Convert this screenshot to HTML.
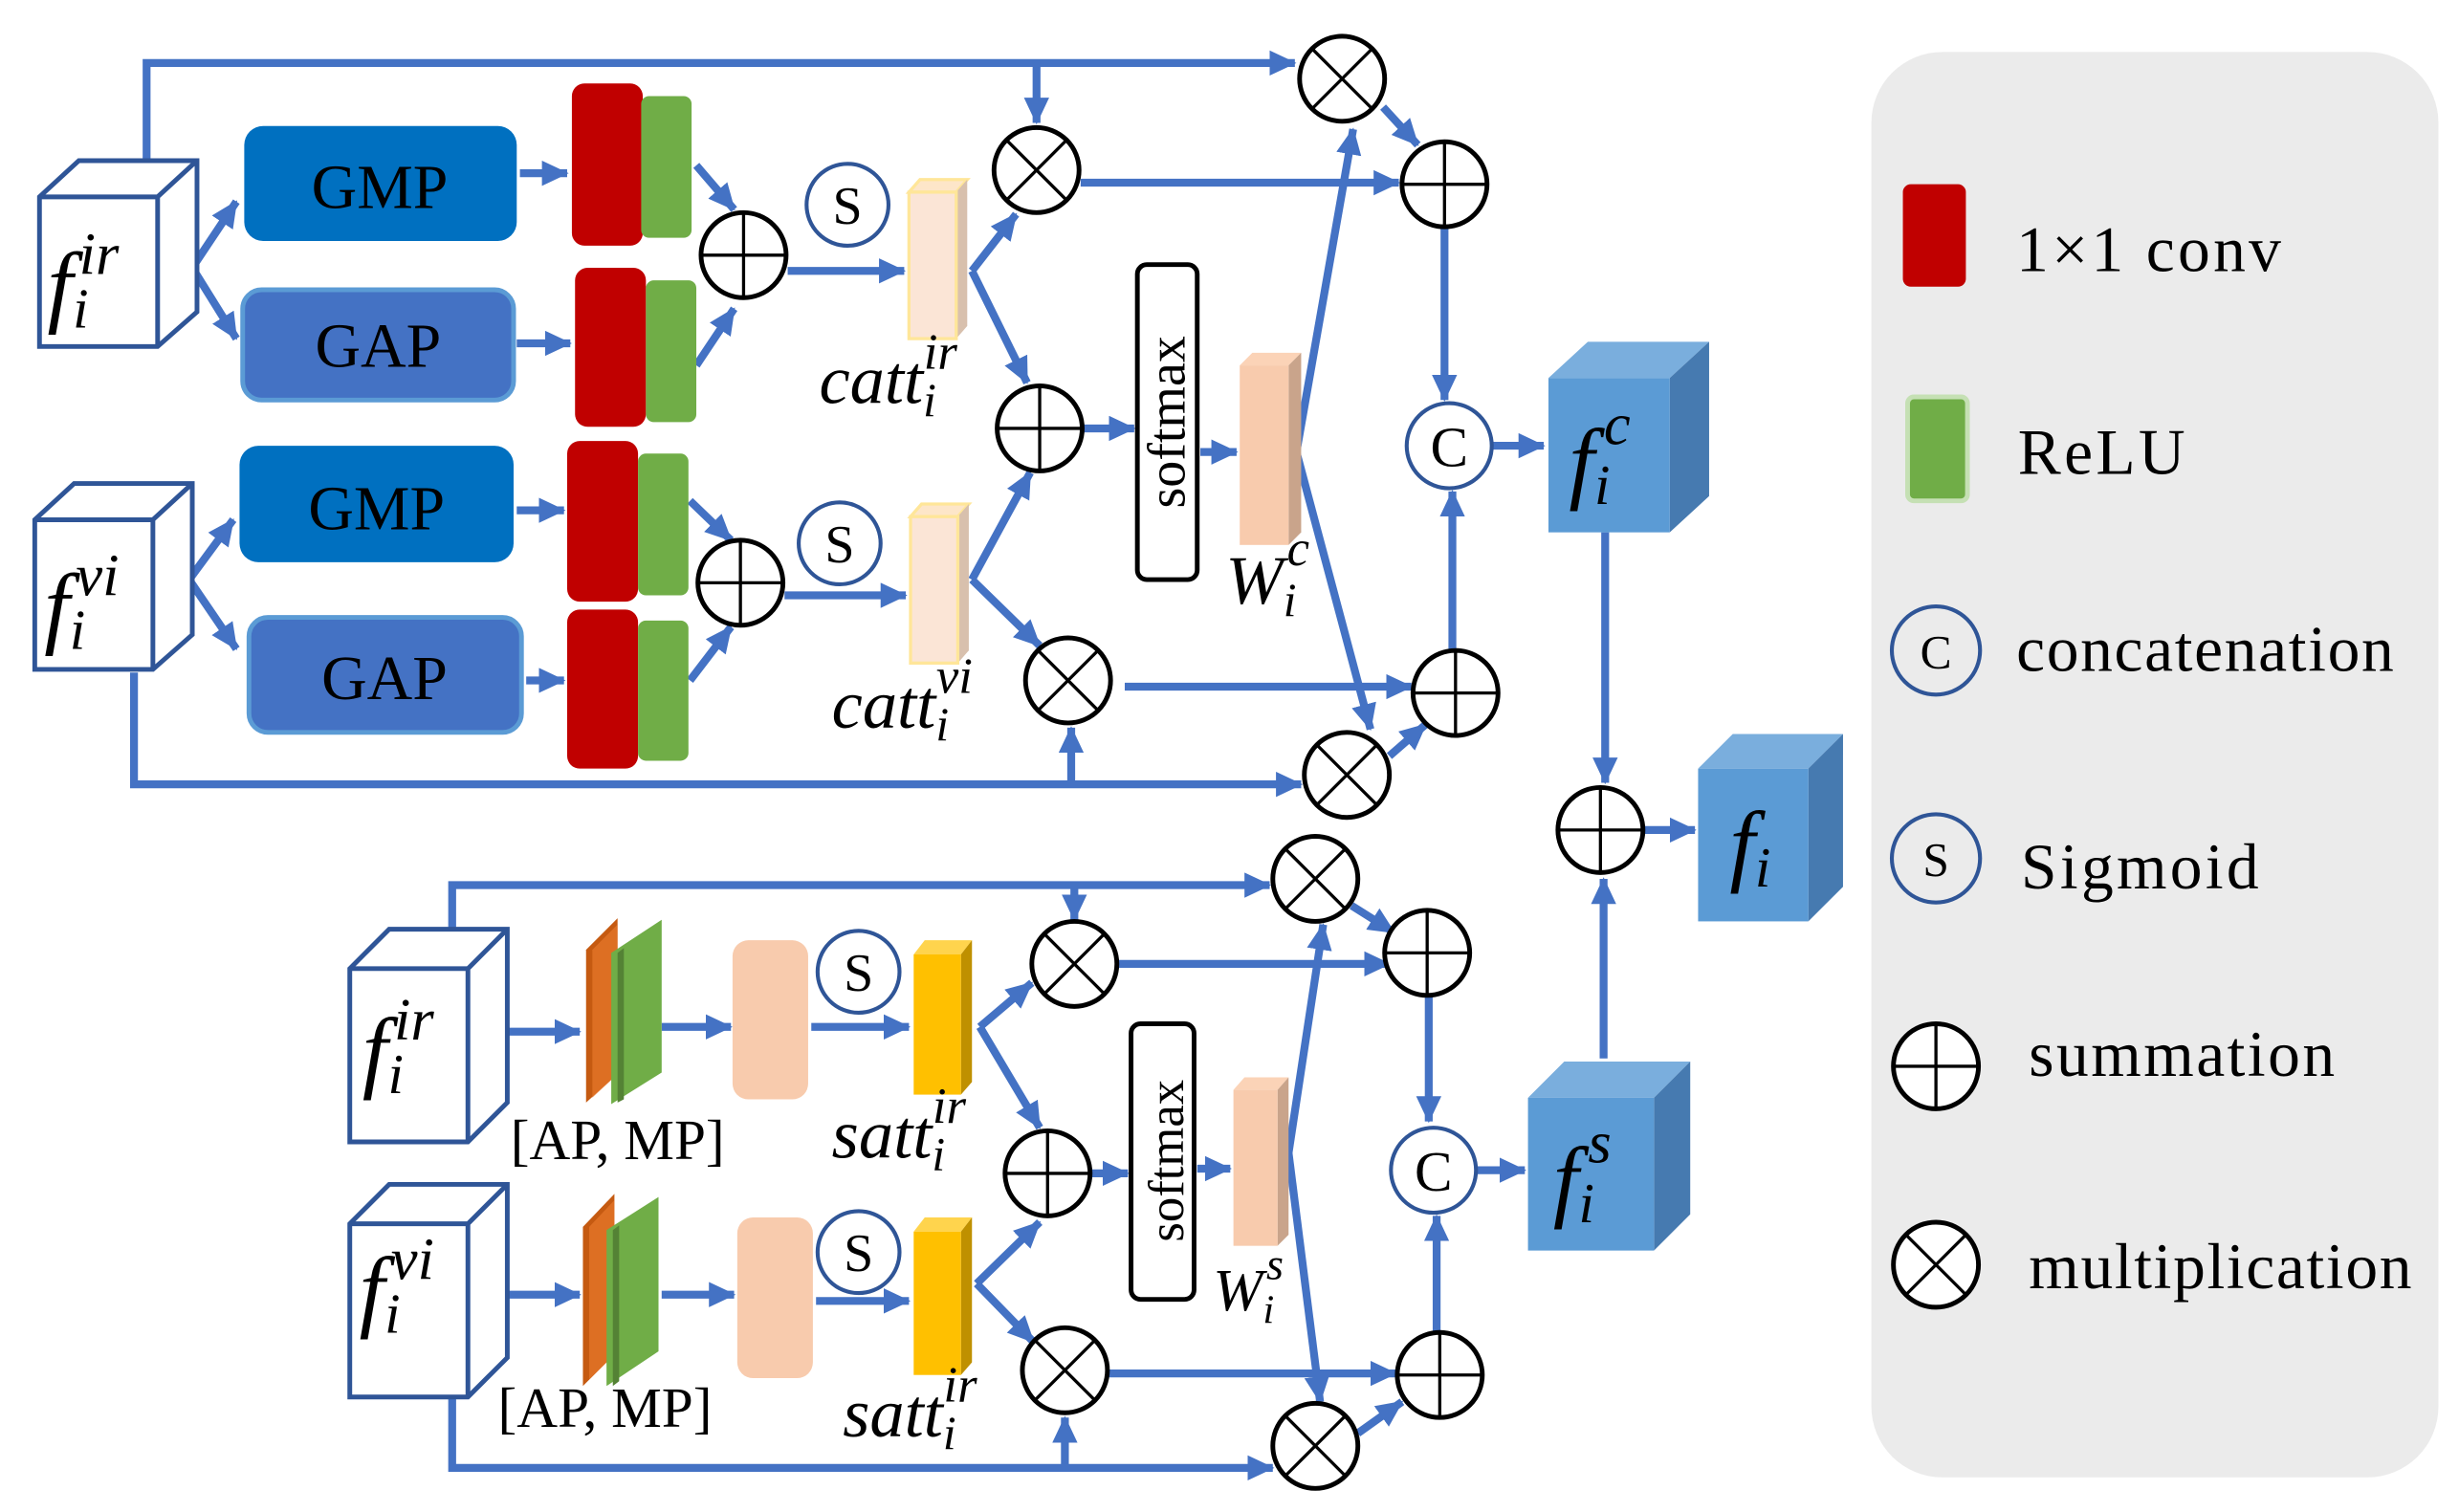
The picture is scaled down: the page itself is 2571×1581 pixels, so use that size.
<!DOCTYPE html>
<html><head><meta charset="utf-8"><style>
html,body{margin:0;padding:0;background:#fff;}
svg{display:block;}
text{font-family:"Liberation Serif",serif;}
.m{font-style:italic;}
</style></head><body>
<svg width="2571" height="1581" viewBox="0 0 1561 960" xmlns="http://www.w3.org/2000/svg">
<defs>
<marker id="a" markerUnits="userSpaceOnUse" markerWidth="18" markerHeight="18" refX="16" refY="8" orient="auto">
<path d="M0,0 L17,8 L0,16 Z" fill="#4472c4"/></marker>
<g id="plus"><circle r="27" fill="#fff" stroke="#000" stroke-width="3"/><path d="M-27,0H27M0,-27V27" stroke="#000" stroke-width="2"/></g>
<g id="mul"><circle r="27" fill="#fff" stroke="#000" stroke-width="3"/><path d="M-19,-19L19,19M19,-19L-19,19" stroke="#000" stroke-width="2"/></g>
</defs>
<g stroke="#4472c4" stroke-width="5" fill="none">
<path d="M93,102V40H822" marker-end="url(#a)"/>
<path d="M658,40V78" marker-end="url(#a)"/>
<path d="M122,170L150,128" marker-end="url(#a)"/>
<path d="M122,170L150,215" marker-end="url(#a)"/>
<path d="M330,110H360" marker-end="url(#a)"/>
<path d="M328,218H362" marker-end="url(#a)"/>
<path d="M442,105L466,133" marker-end="url(#a)"/>
<path d="M442,232L466,196" marker-end="url(#a)"/>
<path d="M500,172H574" marker-end="url(#a)"/>
<path d="M617,172L645,136" marker-end="url(#a)"/>
<path d="M617,172L652,243" marker-end="url(#a)"/>
<path d="M120,368L148,330" marker-end="url(#a)"/>
<path d="M120,368L150,412" marker-end="url(#a)"/>
<path d="M328,324H358" marker-end="url(#a)"/>
<path d="M334,432H358" marker-end="url(#a)"/>
<path d="M438,318L464,343" marker-end="url(#a)"/>
<path d="M438,432L464,398" marker-end="url(#a)"/>
<path d="M498,378H575" marker-end="url(#a)"/>
<path d="M617,368L654,300" marker-end="url(#a)"/>
<path d="M617,368L660,410" marker-end="url(#a)"/>
<path d="M85,427V498H826" marker-end="url(#a)"/>
<path d="M680,498V462" marker-end="url(#a)"/>
<path d="M688,272H720" marker-end="url(#a)"/>
<path d="M762,287H785" marker-end="url(#a)"/>
<path d="M823,287L859,82" marker-end="url(#a)"/>
<path d="M823,287L870,463" marker-end="url(#a)"/>
<path d="M878,68L900,92" marker-end="url(#a)"/>
<path d="M686,116H888" marker-end="url(#a)"/>
<path d="M917,145V254" marker-end="url(#a)"/>
<path d="M714,436H896" marker-end="url(#a)"/>
<path d="M882,480L905,460" marker-end="url(#a)"/>
<path d="M922,413V312" marker-end="url(#a)"/>
<path d="M948,283H980" marker-end="url(#a)"/>
<path d="M1019,338V497" marker-end="url(#a)"/>
<path d="M1044,527H1076" marker-end="url(#a)"/>
<path d="M1018,672V558" marker-end="url(#a)"/>
<path d="M287,590V562H806" marker-end="url(#a)"/>
<path d="M682,562V584" marker-end="url(#a)"/>
<path d="M300,655H368" marker-end="url(#a)"/>
<path d="M420,652H464" marker-end="url(#a)"/>
<path d="M515,652H577" marker-end="url(#a)"/>
<path d="M622,652L655,624" marker-end="url(#a)"/>
<path d="M622,652L660,716" marker-end="url(#a)"/>
<path d="M300,822H368" marker-end="url(#a)"/>
<path d="M420,822H466" marker-end="url(#a)"/>
<path d="M518,826H577" marker-end="url(#a)"/>
<path d="M620,815L660,776" marker-end="url(#a)"/>
<path d="M620,815L656,852" marker-end="url(#a)"/>
<path d="M287,887V932H808" marker-end="url(#a)"/>
<path d="M676,932V900" marker-end="url(#a)"/>
<path d="M692,745H716" marker-end="url(#a)"/>
<path d="M760,742H781" marker-end="url(#a)"/>
<path d="M818,732L840,587" marker-end="url(#a)"/>
<path d="M818,732L838,890" marker-end="url(#a)"/>
<path d="M858,575L885,592" marker-end="url(#a)"/>
<path d="M710,612H882" marker-end="url(#a)"/>
<path d="M907,632V712" marker-end="url(#a)"/>
<path d="M703,872H886" marker-end="url(#a)"/>
<path d="M862,910L890,890" marker-end="url(#a)"/>
<path d="M912,846V772" marker-end="url(#a)"/>
<path d="M938,743H968" marker-end="url(#a)"/>
</g>

<g stroke="#2f5597" stroke-width="3" fill="#fff">
<path d="M25,125L50,102H125V198L100,220H25Z"/><path d="M25,125H100V220M100,125L125,102" fill="none"/>
<path d="M22,330L47,307H122V403L97,425H22Z"/><path d="M22,330H97V425M97,330L122,307" fill="none"/>
<path d="M222,615L247,590H322V700L297,725H222Z"/><path d="M222,615H297V725M297,615L322,590" fill="none"/>
<path d="M222,777L247,752H322V862L297,887H222Z"/><path d="M222,777H297V887M297,777L322,752" fill="none"/>
</g>
<g class="m">
<text x="30" y="200" font-size="58" class="m">f<tspan font-size="36" dy="8">i</tspan><tspan font-size="38" dx="-6" dy="-34">ir</tspan></text>
<text x="28" y="404" font-size="58" class="m">f<tspan font-size="36" dy="8">i</tspan><tspan font-size="38" dx="-6" dy="-34">vi</tspan></text>
<text x="230" y="686" font-size="58" class="m">f<tspan font-size="36" dy="8">i</tspan><tspan font-size="38" dx="-6" dy="-34">ir</tspan></text>
<text x="228" y="838" font-size="58" class="m">f<tspan font-size="36" dy="8">i</tspan><tspan font-size="38" dx="-6" dy="-34">vi</tspan></text>
</g>
<g>
<path d="M983,240L1008,217H1085L1060,240Z" fill="#7aaedd"/><path d="M1060,240L1085,217V315L1060,338Z" fill="#467ab0"/><rect x="983" y="240" width="77" height="98" fill="#5b9bd5"/>
<path d="M1078,488L1100,466H1170L1148,488Z" fill="#7aaedd"/><path d="M1148,488L1170,466V563L1148,585Z" fill="#467ab0"/><rect x="1078" y="488" width="70" height="97" fill="#5b9bd5"/>
<path d="M970,697L993,674H1073L1050,697Z" fill="#7aaedd"/><path d="M1050,697L1073,674V771L1050,794Z" fill="#467ab0"/><rect x="970" y="697" width="80" height="97" fill="#5b9bd5"/>
</g>
<text x="996" y="312" font-size="58" class="m">f<tspan font-size="36" dy="8">i</tspan><tspan font-size="38" dx="-4" dy="-38">c</tspan></text>
<text x="1098" y="555" font-size="58" class="m">f<tspan font-size="36" dy="8">i</tspan></text>
<text x="986" y="768" font-size="58" class="m">f<tspan font-size="36" dy="8">i</tspan><tspan font-size="38" dx="-4" dy="-38">s</tspan></text>

<rect x="155" y="80" width="173" height="73" rx="12" fill="#0070c0"/>
<rect x="154" y="184" width="172" height="70" rx="12" fill="#4472c4" stroke="#5b9bd5" stroke-width="3"/>
<rect x="152" y="283" width="174" height="74" rx="12" fill="#0070c0"/>
<rect x="158" y="392" width="173" height="73" rx="12" fill="#4472c4" stroke="#5b9bd5" stroke-width="3"/>
<g font-size="40" text-anchor="middle">
<text x="241" y="132">GMP</text><text x="240" y="233">GAP</text>
<text x="239" y="336">GMP</text><text x="244" y="444">GAP</text>
</g>
<g fill="#c00000"><rect x="363" y="53" width="45" height="103" rx="8"/><rect x="365" y="170" width="45" height="101" rx="8"/><rect x="360" y="280" width="45" height="102" rx="8"/><rect x="360" y="387" width="45" height="101" rx="8"/></g>
<g fill="#70ad47"><rect x="407" y="61" width="32" height="90" rx="5"/><rect x="410" y="178" width="32" height="90" rx="5"/><rect x="405" y="288" width="32" height="90" rx="5"/><rect x="405" y="394" width="32" height="89" rx="5"/></g>
<g fill="#fff" stroke="#2f5597" stroke-width="2.5"><circle cx="538" cy="130" r="26"/><circle cx="533" cy="345" r="26"/><circle cx="545" cy="617" r="26"/><circle cx="545" cy="795" r="26"/></g>
<g font-size="34" text-anchor="middle"><text x="538" y="142">S</text><text x="533" y="357">S</text><text x="545" y="629">S</text><text x="545" y="807">S</text></g>
<g>
<path d="M577,122L584,114H614L607,122Z" fill="#fde6c9" stroke="#ffe699" stroke-width="2"/><path d="M607,122L614,114V207L607,215Z" fill="#d8c0ad"/><rect x="577" y="122" width="30" height="93" fill="#fbe5d6" stroke="#ffe699" stroke-width="2"/>
<path d="M578,328L585,320H615L608,328Z" fill="#fde6c9" stroke="#ffe699" stroke-width="2"/><path d="M608,328L615,320V413L608,421Z" fill="#d8c0ad"/><rect x="578" y="328" width="30" height="93" fill="#fbe5d6" stroke="#ffe699" stroke-width="2"/>
<path d="M787,232L795,224H826L818,232Z" fill="#fbd3b7"/><path d="M818,232L826,224V338L818,346Z" fill="#c9a48b"/><rect x="787" y="232" width="31" height="114" fill="#f8cbad"/>
<path d="M783,692L790,684H818L811,692Z" fill="#fbd3b7"/><path d="M811,692L818,684V784L811,791Z" fill="#c9a48b"/><rect x="783" y="692" width="28" height="99" fill="#f8cbad"/>
<path d="M580,606L587,597H617L610,606Z" fill="#ffd44d"/><path d="M610,606L617,597V687L610,695Z" fill="#bf9000"/><rect x="580" y="606" width="30" height="89" fill="#ffc000"/>
<path d="M580,782L587,773H617L610,782Z" fill="#ffd44d"/><path d="M610,782L617,773V865L610,873Z" fill="#bf9000"/><rect x="580" y="782" width="30" height="91" fill="#ffc000"/>
</g>
<path d="M372,603L392,583V682L372,700Z" fill="#c55a11"/><path d="M376,603L392,587V682L376,697Z" fill="#ed7d31" opacity=".6"/>
<path d="M388,605L420,584V681L388,701Z" fill="#70ad47"/><path d="M392,605L396,602V698L392,700Z" fill="#548235"/>
<path d="M370,779L390,758V860L370,880Z" fill="#c55a11"/><path d="M374,779L390,762V860L374,876Z" fill="#ed7d31" opacity=".6"/>
<path d="M385,781L418,760V858L385,880Z" fill="#70ad47"/><path d="M389,781L393,778V877L389,880Z" fill="#548235"/>
<rect x="465" y="597" width="48" height="101" rx="10" fill="#f8cbad"/>
<rect x="468" y="773" width="48" height="102" rx="10" fill="#f8cbad"/>
<text x="392" y="736" font-size="36" text-anchor="middle">[AP, MP]</text>
<text x="384" y="906" font-size="36" text-anchor="middle">[AP, MP]</text>
<rect x="722" y="168" width="38" height="200" rx="6" fill="#fff" stroke="#000" stroke-width="3"/>
<text transform="translate(752,268) rotate(-90)" font-size="34" text-anchor="middle">softmax</text>
<rect x="718" y="650" width="40" height="175" rx="6" fill="#fff" stroke="#000" stroke-width="3"/>
<text transform="translate(751,737) rotate(-90)" font-size="32" text-anchor="middle">softmax</text>
<g font-size="44" class="m">
<text x="520" y="256">catt<tspan font-size="30" dy="8">i</tspan><tspan font-size="32" dx="-8" dy="-30">ir</tspan></text>
<text x="528" y="462">catt<tspan font-size="30" dy="8">i</tspan><tspan font-size="32" dx="-8" dy="-30">vi</tspan></text>
<text x="528" y="735">satt<tspan font-size="30" dy="8">i</tspan><tspan font-size="32" dx="-8" dy="-30">ir</tspan></text>
<text x="535" y="912">satt<tspan font-size="30" dy="8">i</tspan><tspan font-size="32" dx="-8" dy="-30">ir</tspan></text>
<text x="778" y="383">W<tspan font-size="30" dy="8">i</tspan><tspan font-size="32" dx="-6" dy="-32">c</tspan></text>
<text x="770" y="832" font-size="38">W<tspan font-size="26" dy="8">i</tspan><tspan font-size="28" dx="-5" dy="-28">s</tspan></text>
</g>
<use href="#plus" x="472" y="162"/><use href="#plus" x="470" y="370"/>
<use href="#mul" x="852" y="50"/><use href="#mul" x="658" y="108"/>
<use href="#plus" x="917" y="117"/><use href="#plus" x="660" y="272"/>
<use href="#mul" x="678" y="432"/><use href="#plus" x="924" y="440"/><use href="#mul" x="855" y="492"/>
<use href="#plus" x="1016" y="527"/>
<use href="#mul" x="835" y="558"/><use href="#mul" x="682" y="612"/><use href="#plus" x="906" y="605"/>
<use href="#plus" x="665" y="745"/><use href="#mul" x="676" y="870"/><use href="#plus" x="914" y="873"/><use href="#mul" x="835" y="918"/>
<g fill="#fff" stroke="#2f5597" stroke-width="2.5"><circle cx="920" cy="283" r="27"/><circle cx="910" cy="743" r="27"/></g>
<g font-size="36" text-anchor="middle"><text x="920" y="296">C</text><text x="910" y="756">C</text></g>
<rect x="1188" y="33" width="360" height="905" rx="45" fill="#ebebeb"/>
<rect x="1208" y="117" width="40" height="65" rx="5" fill="#c00000"/>
<rect x="1211" y="252" width="38" height="66" rx="4" fill="#70ad47" stroke="#c5e0b4" stroke-width="3"/>
<g fill="none" stroke="#2f5597" stroke-width="2.5"><circle cx="1229" cy="413" r="28"/><circle cx="1229" cy="545" r="28"/></g>
<g font-size="30" text-anchor="middle"><text x="1229" y="424">C</text><text x="1229" y="556">S</text></g>
<use href="#plus" x="1229" y="677"/><use href="#mul" x="1229" y="803"/>
<g font-size="41" letter-spacing="1">
<text x="1280" y="172" letter-spacing="2">1×1 conv</text>
<text x="1281" y="301" letter-spacing="2">ReLU</text>
<text x="1280" y="426">concatenation</text>
<text x="1283" y="564" letter-spacing="2">Sigmoid</text>
<text x="1288" y="683" letter-spacing="1.5">summation</text>
<text x="1288" y="818">multiplication</text>
</g>
</svg>
</body></html>
